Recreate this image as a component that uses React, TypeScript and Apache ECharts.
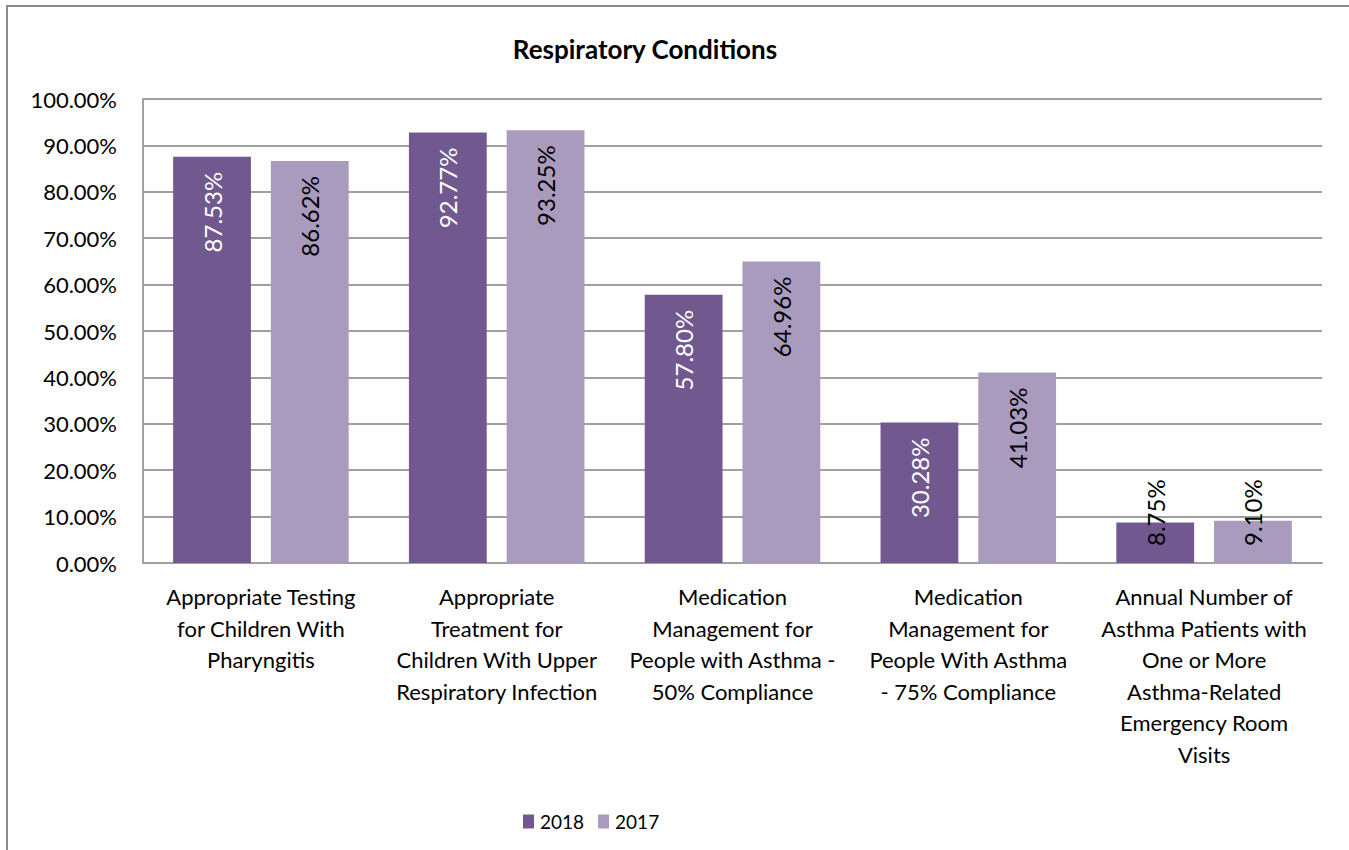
import React, { useEffect, useRef } from "react";
import * as echarts from "echarts";

const categories: string[] = [
  "Appropriate Testing\nfor Children With\nPharyngitis",
  "Appropriate\nTreatment for\nChildren With Upper\nRespiratory Infection",
  "Medication\nManagement for\nPeople with Asthma -\n50% Compliance",
  "Medication\nManagement for\nPeople With Asthma\n- 75% Compliance",
  "Annual Number of\nAsthma Patients with\nOne or More\nAsthma-Related\nEmergency Room\nVisits",
];
const values2018: number[] = [87.53, 92.77, 57.8, 30.28, 8.75];
const values2017: number[] = [86.62, 93.25, 64.96, 41.03, 9.1];
const seriesNames: string[] = ["2018", "2017"];
const yTicks = { min: 0, max: 100, interval: 10 };

const FONT = "Lato";
const C2018 = "#715990";
const C2017 = "#A99BBE";

function buildData(vals: number[], insideColor: string) {
  return vals.map((v) => {
    const small = v < 20;
    return {
      value: v,
      label: small
        ? { position: "insideBottom", align: "left", distance: 17, color: "#000000" }
        : { position: "insideTop", align: "right", distance: 15, color: insideColor },
    };
  });
}

export default function App() {
  const ref = useRef<HTMLDivElement>(null);
  useEffect(() => {
    if (!ref.current) return;
    const chart = echarts.init(ref.current, undefined, { renderer: "svg" });
    const labelBase = {
      show: true,
      rotate: 90,
      verticalAlign: "middle",
      fontFamily: FONT,
      fontSize: 24,
      formatter: (p: any) => p.value.toFixed(2) + "%",
    };
    chart.setOption({
      animation: false,
      backgroundColor: "#ffffff",
      textStyle: { fontFamily: FONT },
      title: {
        text: "Respiratory Conditions",
        left: 640,
        top: 31,
        textAlign: "center",
        textStyle: { fontFamily: FONT, fontWeight: "bold", fontSize: 26, color: "#000" },
      },
      graphic: [
        {
          type: "rect",
          shape: { x: 7, y: 6, width: 1500, height: 1000 },
          style: { fill: "none", stroke: "#8c8c8c", lineWidth: 2 },
          silent: true,
          z: -1,
        },
      ],
      legend: {
        left: 523,
        top: 812,
        padding: 0,
        itemWidth: 11,
        itemHeight: 14,
        itemGap: 14,
        icon: "rect",
        textStyle: { fontFamily: FONT, fontSize: 19, color: "#000", padding: [0, 0, 0, 1] },
        data: seriesNames,
      },
      grid: { left: 143, right: 27, top: 99, bottom: 287, containLabel: false },
      xAxis: {
        type: "category",
        data: categories,
        axisLine: { show: true, lineStyle: { color: "#a0a0a0", width: 2 } },
        axisTick: { show: false },
        axisLabel: {
          interval: 0,
          fontFamily: FONT,
          fontSize: 22,
          lineHeight: 31.5,
          color: "#000",
          margin: 18,
          align: "center",
        },
      },
      yAxis: {
        type: "value",
        min: yTicks.min,
        max: yTicks.max,
        interval: yTicks.interval,
        axisLine: { show: true, lineStyle: { color: "#a0a0a0", width: 2 } },
        axisTick: { show: false },
        splitLine: { show: true, lineStyle: { color: "#a0a0a0", width: 2 } },
        axisLabel: {
          fontFamily: FONT,
          fontSize: 22,
          color: "#000",
          margin: 26,
          formatter: (v: number) => v.toFixed(2) + "%",
        },
      },
      series: [
        {
          name: seriesNames[0],
          type: "bar",
          barWidth: "33%",
          barGap: "25.6%",
          itemStyle: { color: C2018 },
          label: { ...labelBase },
          data: buildData(values2018, "#ffffff"),
        },
        {
          name: seriesNames[1],
          type: "bar",
          barWidth: "33%",
          barGap: "25.6%",
          itemStyle: { color: C2017 },
          label: { ...labelBase },
          data: buildData(values2017, "#000000"),
        },
      ],
    });
    return () => chart.dispose();
  }, []);
  return (
    <div
      ref={ref}
      style={{ position: "absolute", left: 0, top: 0, width: 1349, height: 850 }}
    />
  );
}
